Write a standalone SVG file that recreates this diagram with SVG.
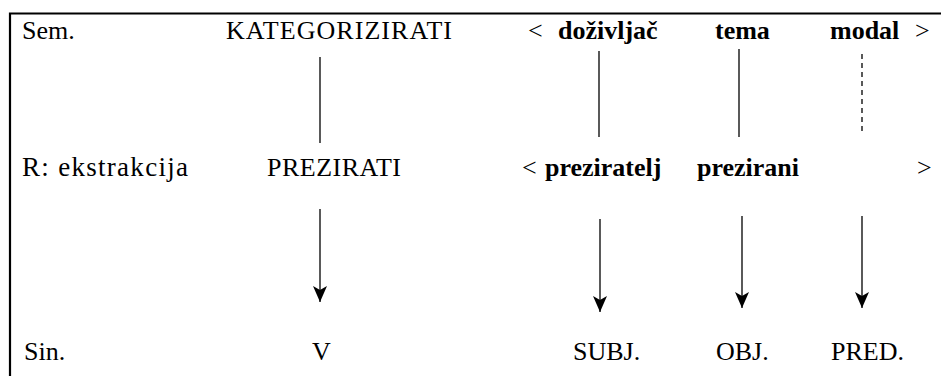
<svg xmlns="http://www.w3.org/2000/svg" width="941" height="376" viewBox="0 0 941 376">
<style>
  .t { font-family: 'Liberation Serif', 'DejaVu Serif', serif; font-size: 26px; fill: #000; }
  .b { font-weight: bold; }
  .ln { stroke: #000; stroke-width: 1.3; fill: none; }
  .dash { stroke-dasharray: 5 4; }
  .frame { stroke: #000; stroke-width: 2.2; fill: none; }
</style>
<defs>
  <marker id="ah" viewBox="-17 -8 18 16" markerWidth="18" markerHeight="16" refX="0" refY="0" orient="auto" markerUnits="userSpaceOnUse">
    <path d="M0,0 L-16,-7 L-12,0 L-16,7 Z" fill="#000"/>
  </marker>
</defs>
<path class="frame" d="M10,376 V13.5 H941"/>

<g class="t" font-family="Liberation Serif, serif">
<g id="labels">
  <text x="22" y="39">Sem.</text>
  <text x="22" y="176" font-size="27" textLength="166">R: ekstrakcija</text>
  <text x="24" y="360">Sin.</text>
</g>

<g id="n-kategorizirati"><text x="226" y="39" textLength="226">KATEGORIZIRATI</text></g>
<g id="n-sem-open"><text x="528" y="39">&lt;</text></g>
<g id="n-dozivljac"><text class="b" x="558" y="39">doživljač</text></g>
<g id="n-tema"><text class="b" x="715" y="39">tema</text></g>
<g id="n-modal"><text class="b" x="830" y="39">modal</text></g>
<g id="n-sem-close"><text x="915" y="39">&gt;</text></g>

<g id="n-prezirati"><text x="267" y="176" textLength="134">PREZIRATI</text></g>
<g id="n-r-open"><text x="522" y="176">&lt;</text></g>
<g id="n-preziratelj"><text class="b" x="545" y="176">preziratelj</text></g>
<g id="n-prezirani"><text class="b" x="697" y="176">prezirani</text></g>
<g id="n-r-close"><text x="917" y="176">&gt;</text></g>

<g id="n-v"><text x="312" y="360">V</text></g>
<g id="n-subj"><text x="573" y="360">SUBJ.</text></g>
<g id="n-obj"><text x="716" y="360">OBJ.</text></g>
<g id="n-pred"><text x="831" y="360">PRED.</text></g>
</g>

<g id="connectors">
  <line class="ln" x1="320" y1="57" x2="320" y2="143"/>
  <line class="ln" x1="599" y1="51" x2="599" y2="137"/>
  <line class="ln" x1="739" y1="49" x2="739" y2="137"/>
  <line class="ln dash" x1="862" y1="54" x2="862" y2="135"/>
  <line class="ln" x1="320" y1="209" x2="320" y2="302" marker-end="url(#ah)"/>
  <line class="ln" x1="600" y1="219" x2="600" y2="312" marker-end="url(#ah)"/>
  <line class="ln" x1="742" y1="216" x2="742" y2="308" marker-end="url(#ah)"/>
  <line class="ln" x1="862" y1="216" x2="862" y2="308" marker-end="url(#ah)"/>
</g>
</svg>
